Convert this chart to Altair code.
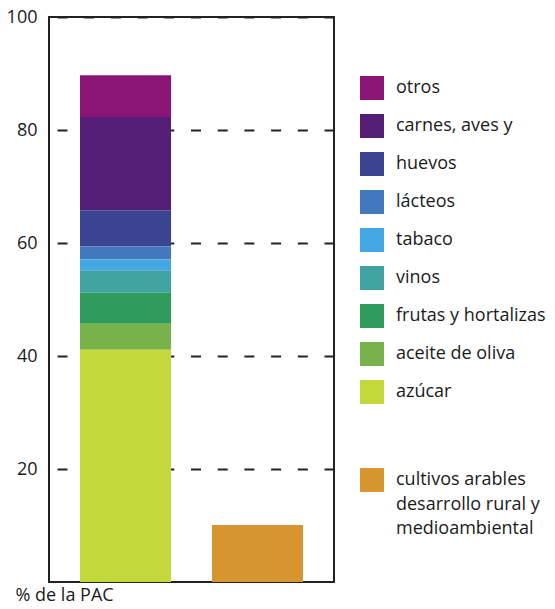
import altair as alt
import pandas as pd

# ---- data ----
bars = ["A", "B"]
cats1 = ["otros", "carnes, aves y", "huevos", "lácteos", "tabaco", "vinos",
         "frutas y hortalizas", "aceite de oliva", "azúcar"]
vals1 = [7.4, 16.5, 6.4, 2.3, 2.0, 3.9, 5.5, 4.6, 41.1]
colors1 = ["#8B1577", "#541F75", "#3C4591", "#4279BE", "#42A7E2", "#3FA39F",
           "#2F9C5C", "#77B34A", "#C3D83B"]
# second bar: one category whose legend label runs over three lines
cats2 = ["cultivos arables", "desarrollo rural y", "medioambiental"]
vals2 = [10.1]
colors2 = ["#D6952E", "transparent", "transparent"]
y_ticks = [20, 40, 60, 80, 100]

FONT = "Open Sans"
INK = "#1a1a1a"

df1 = pd.DataFrame({
    "bar": [bars[0]] * len(cats1),
    "cat": cats1,
    "value": vals1,
    "ord": list(range(len(cats1), 0, -1)),
})
df2 = pd.DataFrame({"bar": [bars[1]], "cat": [cats2[0]], "value": vals2})

x_enc = alt.X("bar:N", scale=alt.Scale(domain=bars, paddingInner=0.31, paddingOuter=0.235), axis=None)
y_enc = alt.Y(
    "value:Q", stack="zero",
    scale=alt.Scale(domain=[0, 100], nice=False),
    axis=alt.Axis(
        values=y_ticks, domain=False, ticks=False, grid=True,
        gridDash=[10, 16.7], gridDashOffset=18.7, gridColor="#222", gridWidth=2,
        labelFontSize=18, labelFont=FONT, labelColor=INK, labelPadding=12,
        title="% de la PAC", titleAngle=0, titleX=-34, titleY=583,
        titleAlign="left", titleBaseline="alphabetic", titleFontWeight="normal",
        titleFontSize=18, titleFont=FONT, titleColor=INK,
    ),
)

leg_common = dict(
    title=None, orient="none", symbolType="square", symbolSize=576,
    symbolStrokeWidth=0, symbolOpacity=1, labelFontSize=18, labelFont=FONT,
    labelColor=INK, labelOffset=12, labelLimit=300, padding=0,
)

bar1 = alt.Chart(df1).mark_bar(opacity=1).encode(
    x=x_enc, y=y_enc,
    color=alt.Color("cat:N", scale=alt.Scale(domain=cats1, range=colors1),
                    legend=alt.Legend(legendX=311, legendY=59, rowPadding=14, **leg_common)),
    order=alt.Order("ord:Q", sort="ascending"),
)
bar2 = alt.Chart(df2).mark_bar(opacity=1).encode(
    x=x_enc, y=y_enc,
    color=alt.Color("cat:N", scale=alt.Scale(domain=cats2, range=colors2),
                    legend=alt.Legend(legendX=311, legendY=451, rowPadding=0.5, **leg_common)),
)

chart = alt.layer(bar1, bar2).resolve_scale(color="independent").properties(
    width=285, height=565,
    autosize=alt.AutoSizeParams(type="none"),
    padding={"left": 41, "top": 9, "right": 213, "bottom": 19},
).configure_view(stroke="#222", strokeWidth=2)

chart.save("out.html", embed_options={"renderer": "svg", "actions": False})
